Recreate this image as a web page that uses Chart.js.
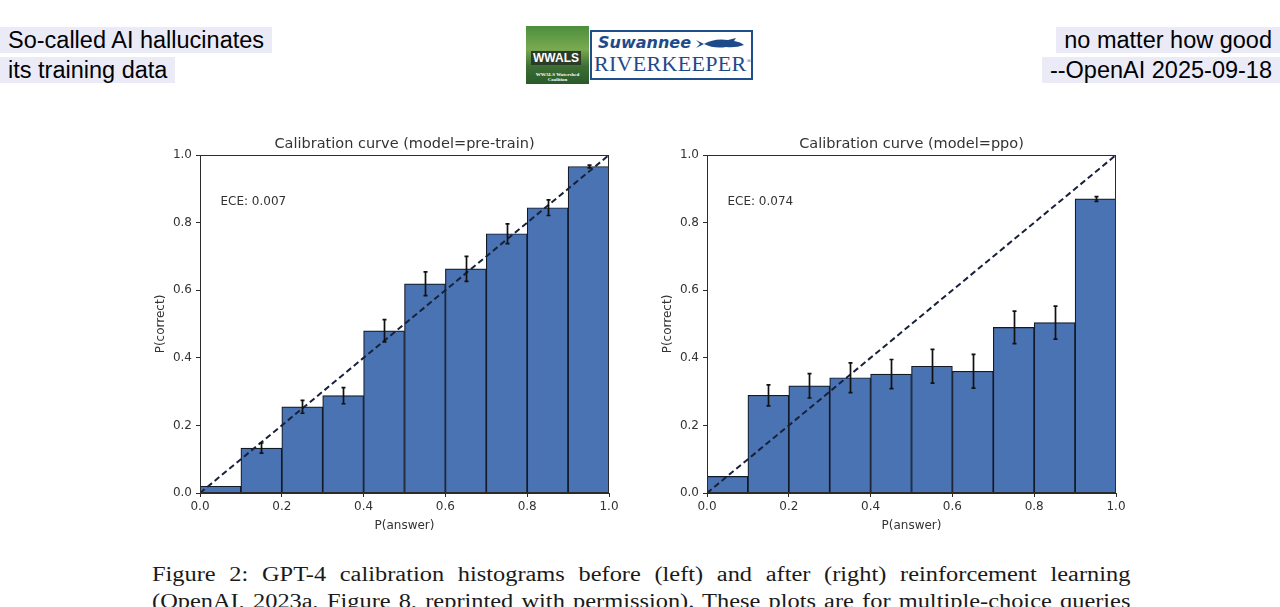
<!DOCTYPE html>
<html>
<head>
<meta charset="utf-8">
<script src="https://cdn.jsdelivr.net/npm/chart.js@4.4.1/dist/chart.umd.min.js"></script>
<style>
  html,body{margin:0;padding:0;background:#fff;width:1280px;height:607px;overflow:hidden;position:relative}
  .note{position:absolute;font-family:"Liberation Sans",Arial,sans-serif;font-size:23.5px;color:#000;line-height:26px}
  .note span{display:block;background:#ebebf8;padding:0 8px;margin-bottom:4px;width:max-content}
  .note.r span{margin-left:auto}
  #logo{position:absolute;left:526px;top:26px;width:227px;height:58px}
  #logo .pic{position:absolute;left:0;top:0;width:63px;height:58px;background:linear-gradient(#4b8f3e,#7aa950 40%,#3c6e34 70%,#2a5a2a);}
  #logo .pic b{position:absolute;left:5px;top:25px;font:bold 12px "Liberation Sans",sans-serif;color:#fff;background:#2a3b2a;padding:0 2px}
  #logo .pic i{position:absolute;left:0;right:0;bottom:2px;text-align:center;font:bold 5px "Liberation Serif",serif;color:#fff;font-style:normal}
  #logo .box{position:absolute;left:64px;top:4px;width:159px;height:46px;border:2px solid #1e4f8c;color:#1f4a8a}
  #logo .box .s{position:absolute;left:6px;top:1px;font:italic bold 16px "DejaVu Sans",sans-serif}
  #logo .box svg{position:absolute;left:104px;top:5px}
  #logo .box .k{position:absolute;left:2px;top:19px;font:22px "Liberation Serif",serif;letter-spacing:0.3px}
  canvas{position:absolute}
  #cap{position:absolute;left:152px;top:561px;width:802px;font-family:"Liberation Serif",serif;font-size:20px;color:#1a1a1a;
       line-height:27px;transform:scaleX(1.22);transform-origin:0 0}
  #cap div{text-align:justify;text-align-last:justify;white-space:nowrap}
</style>
</head>
<body>
<div class="note" style="left:0;top:27px"><span>So-called AI hallucinates</span><span>its training data</span></div>
<div class="note r" style="right:0;top:27px"><span>no matter how good</span><span>--OpenAI 2025-09-18</span></div>
<div id="logo">
  <div class="pic"><b>WWALS</b><i>WWALS Watershed Coalition</i></div>
  <div class="box"><span class="s">Suwannee</span>
    <svg width="48" height="14" viewBox="0 0 48 14"><path d="M0 3 L8 7 L0 11 L4 7 Z M8 7 Q18 1 32 3 L40 1 L38 4 Q45 5 48 8 Q40 11 30 10 Q18 12 8 7 Z" fill="#1f4a8a"/></svg>
    <span class="k">RIVERKEEPER<sup style="font-size:7px">®</sup></span></div>
</div>
<canvas id="left" width="480" height="412" style="left:150px;top:128px"></canvas>
<canvas id="right" width="480" height="412" style="left:657px;top:128px"></canvas>
<div id="cap">
  <div>Figure 2: GPT-4 calibration histograms before (left) and after (right) reinforcement learning</div>
  <div>(OpenAI, 2023a, Figure 8, reprinted with permission). These plots are for multiple-choice queries</div>
</div>
<script>
// bins of P(answer), ten equal-width buckets
const binCenters = [0.05,0.15,0.25,0.35,0.45,0.55,0.65,0.75,0.85,0.95];
const axisTicks  = [0,0.2,0.4,0.6,0.8,1.0];

// observed accuracy per bin, with error bar half-heights
const preTrainAcc = [0.020,0.133,0.255,0.288,0.480,0.619,0.663,0.767,0.844,0.966];
const preTrainErr = [0.000,0.015,0.019,0.024,0.033,0.035,0.037,0.029,0.023,0.004];
const ppoAcc = [0.049,0.289,0.317,0.341,0.352,0.375,0.360,0.490,0.504,0.870];
const ppoErr = [0.000,0.031,0.036,0.044,0.043,0.050,0.050,0.048,0.049,0.007];

const diagonal = [0,1];

const BAR = '#4a73b3';
const INK = '#2b2b2b';
const FONT = 'DejaVu Sans';

// title, error bars, axes frame and ECE label
const calibPlugin = {
  id:'calib',
  afterDatasetsDraw(chart, args, o){
    const {ctx, chartArea:a, scales:{x,y}} = chart;
    ctx.save();
    ctx.strokeStyle='#111'; ctx.lineWidth=1.7;
    o.acc.forEach((v,i)=>{
      const e=o.err[i]; if(!e) return;
      const px=Math.round(x.getPixelForValue(binCenters[i]))+0.5;
      const y0=y.getPixelForValue(v-e), y1=y.getPixelForValue(v+e);
      ctx.beginPath();
      ctx.moveTo(px,y0); ctx.lineTo(px,y1);
      ctx.moveTo(px-2,y0); ctx.lineTo(px+2,y0);
      ctx.moveTo(px-2,y1); ctx.lineTo(px+2,y1);
      ctx.stroke();
    });
    ctx.strokeStyle=INK; ctx.lineWidth=1;
    ctx.strokeRect(a.left+0.5,a.top+0.5,a.width-1,a.height-1);
    ctx.fillStyle='#333'; ctx.font='12px '+FONT;
    ctx.textBaseline='middle';
    ctx.fillText('ECE: '+o.ece, x.getPixelForValue(0.05), y.getPixelForValue(0.862));
    ctx.textAlign='center';
    ctx.font='14.5px '+FONT;
    ctx.fillText(o.title,(a.left+a.right)/2,a.top-11);
    ctx.restore();
  }
};

function makeChart(id, title, acc, err, ece){
  return new Chart(document.getElementById(id),{
    type:'bar',
    data:{
      datasets:[
        {type:'line',data:diagonal.map(v=>({x:v,y:v})),borderColor:'#18213a',borderWidth:2,
         borderDash:[6,3.5],pointRadius:0,order:0},
        {type:'bar',data:binCenters.map((c,i)=>({x:c,y:acc[i]})),backgroundColor:BAR,
         borderColor:'#121a28',borderWidth:1.2,barPercentage:1,categoryPercentage:1,order:1}
      ]
    },
    options:{
      responsive:false,animation:false,
      layout:{padding:{left:0,right:21,top:27,bottom:7}},
      plugins:{
        legend:{display:false},tooltip:{enabled:false},title:{display:false},
        calib:{acc,err,ece,title}
      },
      scales:{
        x:{type:'linear',min:0,max:1,offset:false,
           afterBuildTicks:s=>{s.ticks=axisTicks.map(v=>({value:v}));},
           afterFit:s=>{s.height=40;},
           ticks:{callback:v=>v.toFixed(1),color:'#333',font:{family:FONT,size:12},padding:3,maxRotation:0},
           grid:{display:true,drawOnChartArea:false,offset:false,tickLength:4,color:INK},
           border:{display:true,color:INK},
           title:{display:true,text:'P(answer)',color:'#333',font:{family:FONT,size:12},padding:{top:0,bottom:0}}},
        y:{min:0,max:1,
           afterBuildTicks:s=>{s.ticks=axisTicks.map(v=>({value:v}));},
           afterFit:s=>{s.width=50;},
           ticks:{callback:v=>v.toFixed(1),color:'#333',font:{family:FONT,size:12},padding:4},
           grid:{display:true,drawOnChartArea:false,tickLength:4,color:INK},
           border:{display:true,color:INK},
           title:{display:true,text:'P(correct)',color:'#333',font:{family:FONT,size:12},padding:{top:4,bottom:0}}}
      }
    },
    plugins:[calibPlugin]
  });
}

makeChart('left','Calibration curve (model=pre-train)',preTrainAcc,preTrainErr,'0.007');
makeChart('right','Calibration curve (model=ppo)',ppoAcc,ppoErr,'0.074');
</script>
</body>
</html>
